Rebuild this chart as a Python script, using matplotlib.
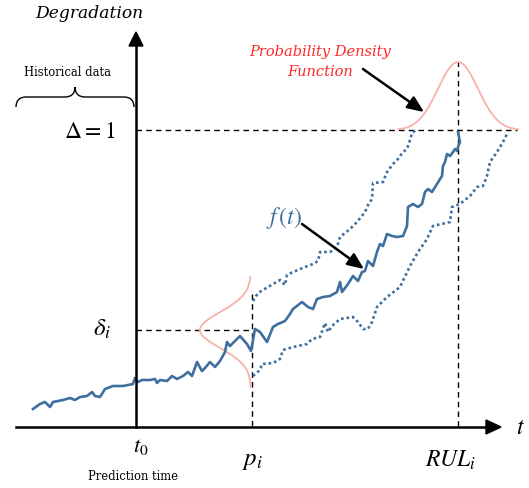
import numpy as np
import matplotlib.pyplot as plt
from matplotlib.path import Path
import matplotlib.patches as patches

plt.rcParams['mathtext.fontset'] = 'stix'

# schematic drawn in pixel space (x to the right, y downwards)
# main degradation path f(t)
main_x = [33, 40, 45, 50, 53, 63, 70, 75, 80, 87, 92, 95, 100, 105, 113, 123, 133, 135, 138, 142,
          150, 155, 157, 160, 167, 172, 177, 183, 188, 192, 197, 202, 205, 210, 215, 220, 225, 227,
          230, 237, 240, 247, 251, 255, 260, 267, 273, 278, 285, 290, 293, 302, 308, 313, 317, 323,
          330, 337, 340, 342, 348, 353, 358, 362, 365, 368, 373, 377, 380, 383, 387, 392, 397, 403,
          407, 408, 413, 418, 422, 425, 428, 432, 437, 442, 443, 445, 447, 450, 453, 455, 457, 458,
          460, 458]
main_y = [410, 405, 403, 408, 403, 401, 399, 401, 398, 397, 393, 397, 398, 390, 387, 387, 385, 379, 383, 381,
          381, 380, 384, 381, 382, 377, 380, 377, 373, 377, 363, 372, 369, 363, 368, 362, 353, 343,
          347, 340, 337, 345, 352, 330, 333, 343, 328, 325, 322, 315, 310, 303, 308, 310, 300, 298,
          297, 293, 283, 293, 285, 277, 282, 273, 272, 262, 267, 253, 245, 247, 235, 237, 238, 237,
          227, 208, 205, 208, 205, 193, 190, 193, 185, 177, 167, 163, 155, 157, 153, 150, 152, 148,
          143, 133]

# upper bound path
upper_x = [253, 258, 263, 273, 280, 285, 287, 293, 305, 313, 318, 320, 330, 337, 340, 350, 357, 365,
           368, 372, 373, 383, 387, 393, 398, 403, 407, 410, 412, 416]
upper_y = [302, 294, 291, 285, 281, 286, 276, 273, 268, 265, 262, 253, 253, 248, 238, 230, 223, 213,
           206, 200, 184, 183, 173, 165, 160, 153, 150, 141, 134, 131]

# lower bound path
lower_x = [253, 260, 262, 273, 280, 283, 293, 307, 312, 320, 325, 328, 332, 340, 353, 358, 363, 368,
           372, 377, 382, 387, 400, 410, 418, 427, 433, 450, 452, 460, 470, 477, 483, 487, 490, 497,
           503, 508]
lower_y = [377, 371, 365, 364, 360, 351, 348, 345, 340, 338, 324, 333, 327, 320, 318, 323, 330, 330,
           323, 308, 303, 298, 288, 267, 253, 240, 227, 223, 208, 205, 197, 188, 187, 177, 163, 153,
           143, 133]

# key positions
x_t0, x_p, x_rul = 136, 252, 458
y_axis0, y_thr, y_delta = 428, 131, 331

# pdf parameters (centre, spread, height)
pdf_rul = (458, 20, 68)
pdf_p = (331, 18, 51)

blue = '#3f6f9f'
pink = '#f7b2ab'
red = '#ff2a2a'

fig = plt.figure(figsize=(5.29, 4.89), dpi=100)
ax = fig.add_axes([0, 0, 1, 1])
ax.set_xlim(0, 529)
ax.set_ylim(489, 0)
ax.axis('off')

# pdf curves
xs = np.linspace(pdf_rul[0] - 60, pdf_rul[0] + 60, 200)
ax.plot(xs, y_thr - pdf_rul[2] * np.exp(-0.5 * ((xs - pdf_rul[0]) / pdf_rul[1]) ** 2),
        color=pink, lw=1.3, zorder=2)
ys = np.linspace(pdf_p[0] - 53, pdf_p[0] + 57, 200)
ax.plot(x_p - 1 - pdf_p[2] * np.exp(-0.5 * ((ys - pdf_p[0]) / pdf_p[1]) ** 2), ys,
        color=pink, lw=1.3, zorder=2)

# dashed guides
dash = dict(color='k', lw=1.0, linestyle=(0, (4, 3)), zorder=1)
ax.plot([x_t0, 517], [y_thr, y_thr], **dash)
ax.plot([x_rul, x_rul], [62, y_axis0], **dash)
ax.plot([x_t0, x_p], [y_delta, y_delta], **dash)
ax.plot([x_p, x_p], [295, y_axis0], **dash)

# paths
ax.plot(main_x, main_y, color=blue, lw=1.9, zorder=4, solid_joinstyle='round')
ax.plot(upper_x, upper_y, color=blue, lw=1.9, linestyle=(0, (1, 1.1)), zorder=3)
ax.plot(lower_x, lower_y, color=blue, lw=1.9, linestyle=(0, (1, 1.1)), zorder=3)

# axes with arrows
ax.plot([16, 488], [y_axis0, y_axis0], color='k', lw=1.8, zorder=5)
ax.plot([x_t0, x_t0], [y_axis0, 45], color='k', lw=1.8, zorder=5)
ax.add_patch(patches.Polygon([[486, y_axis0 - 7], [501, y_axis0], [486, y_axis0 + 7]],
                             closed=True, color='k', zorder=5))
ax.add_patch(patches.Polygon([[x_t0 - 7, 47], [x_t0, 33], [x_t0 + 7, 47]],
                             closed=True, color='k', zorder=5))

# annotation arrows
ax.annotate('', xy=(424, 113), xytext=(363, 70),
            arrowprops=dict(arrowstyle='-|>,head_length=0.7,head_width=0.3',
                            color='k', lw=1.8, mutation_scale=14, shrinkA=0, shrinkB=0))
ax.annotate('', xy=(364, 270), xytext=(302, 225),
            arrowprops=dict(arrowstyle='-|>,head_length=0.7,head_width=0.3',
                            color='k', lw=1.8, mutation_scale=14, shrinkA=0, shrinkB=0))

# brace over historical data
verts = [(16, 108), (16, 98), (26, 98), (26, 98),
         (65, 98), (75, 98), (75, 88), (75, 98), (85, 98),
         (124, 98), (134, 98), (134, 108)]
codes = [Path.MOVETO, Path.CURVE3, Path.CURVE3, Path.LINETO,
         Path.LINETO, Path.CURVE3, Path.CURVE3, Path.CURVE3, Path.CURVE3,
         Path.LINETO, Path.CURVE3, Path.CURVE3]
ax.add_patch(patches.PathPatch(Path(verts, codes), fill=False, lw=1.0, color='k'))

# texts
serif = 'DejaVu Serif'
ax.text(89, 14, 'Degradation', family=serif, style='italic', fontsize=12.3, ha='center', va='center')
ax.text(68, 72, 'Historical data', family=serif, fontsize=8.3, ha='center', va='center')
ax.text(90, 131, r'$\Delta = 1$', fontsize=17, ha='center', va='center')
ax.text(102, 329, r'$\delta_i$', fontsize=18, ha='center', va='center')
ax.text(141, 447, r'$t_0$', fontsize=16, ha='center', va='center')
ax.text(133, 477, 'Prediction time', family=serif, fontsize=8.3, ha='center', va='center')
ax.text(253, 460, r'$p_i$', fontsize=18, ha='center', va='center')
ax.text(451, 460, r'$RUL_i$', fontsize=17, ha='center', va='center')
ax.text(521, 427, r'$t$', fontsize=17, ha='center', va='center')
ax.text(284, 218, r'$f\,(t)$', fontsize=17, color=blue, ha='center', va='center')
ax.text(320, 52, 'Probability Density', family=serif, style='italic', fontsize=10.5,
        color=red, ha='center', va='center')
ax.text(320, 72, 'Function', family=serif, style='italic', fontsize=10.5,
        color=red, ha='center', va='center')

fig.savefig('out.png', dpi=100)
